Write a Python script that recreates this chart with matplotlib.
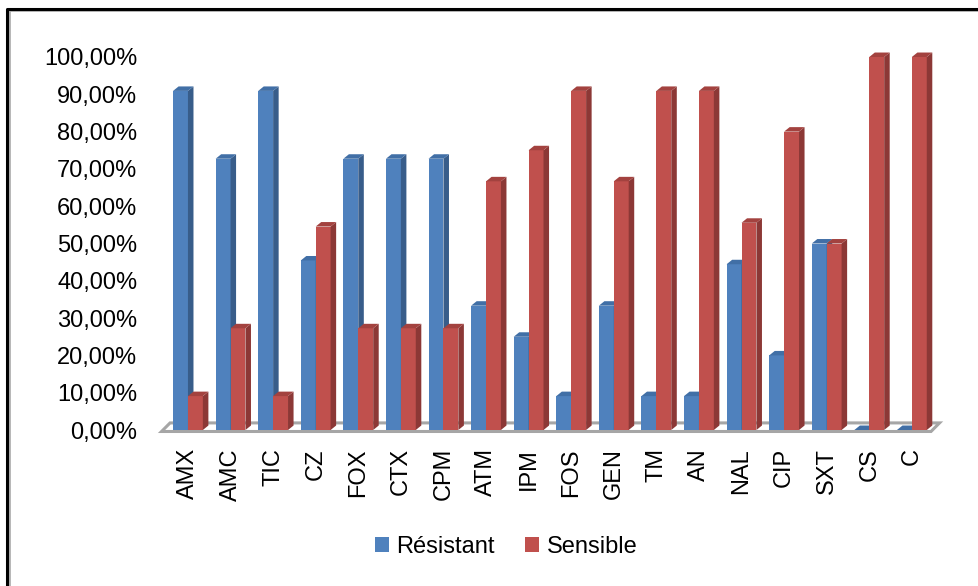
import matplotlib
matplotlib.use("Agg")
import matplotlib.pyplot as plt
from matplotlib.patches import Polygon
from matplotlib.lines import Line2D
import numpy as np

categories = ["AMX", "AMC", "TIC", "CZ", "FOX", "CTX", "CPM", "ATM", "IPM",
              "FOS", "GEN", "TM", "AN", "NAL", "CIP", "SXT", "CS", "C"]
resistant = [90.91, 72.73, 90.91, 45.45, 72.73, 72.73, 72.73, 33.33, 25.0,
             9.09, 33.33, 9.09, 9.09, 44.44, 20.0, 50.0, 0.0, 0.0]
sensible = [9.09, 27.27, 9.09, 54.55, 27.27, 27.27, 27.27, 66.67, 75.0,
            90.91, 66.67, 90.91, 90.91, 55.56, 80.0, 50.0, 100.0, 100.0]
series_names = ["Résistant", "Sensible"]
yticks = list(range(0, 101, 10))

# front / side / top shades for the pseudo-3D columns
shades = [("#4F81BD", "#385D8A", "#416FA6"),
          ("#C0504D", "#8C3836", "#A3423F")]

plt.rcParams["font.family"] = ["Liberation Sans", "DejaVu Sans"]

fig = plt.figure(figsize=(9.79, 5.86), dpi=100)
ax = fig.add_axes([162.4 / 979, 156 / 586, 775 / 979, 373 / 586])
ax.set_xlim(-0.6, 17.6)
ax.set_ylim(0, 100)

x = np.arange(len(categories))
w = 0.35
dx, dy = 0.13, 1.2  # depth offset in data units

# floor slab
floor = Polygon([(-0.62, -0.4), (17.45, -0.4), (17.45 + 0.2, 1.9), (-0.62 + 0.2, 1.9)],
                closed=True, facecolor="white", edgecolor="#A6A6A6", lw=2.2,
                zorder=1, clip_on=False)
ax.add_patch(floor)

for k, vals in enumerate([resistant, sensible]):
    front, side, top = shades[k]
    bars = ax.bar(x - w + k * w, vals, width=w, align="edge", color=front,
                  label=series_names[k], zorder=3 + k, clip_on=False)
    for r in bars:
        x0, x1, h = r.get_x(), r.get_x() + r.get_width(), r.get_height()
        ax.add_patch(Polygon([(x1, 0), (x1 + dx, dy), (x1 + dx, h + dy), (x1, h)],
                             closed=True, facecolor=side, edgecolor="none",
                             zorder=3 + k, clip_on=False))
        ax.add_patch(Polygon([(x0, h), (x1, h), (x1 + dx, h + dy), (x0 + dx, h + dy)],
                             closed=True, facecolor=top, edgecolor="none",
                             zorder=3 + k, clip_on=False))

ax.set_yticks(yticks)
ax.set_yticklabels([("%.2f%%" % v).replace(".", ",") for v in yticks], fontsize=17)
ax.set_xticks(x)
ax.set_xticklabels(categories, rotation=90, fontsize=17)
ax.tick_params(axis="y", length=0, pad=18)
ax.tick_params(axis="x", length=0, pad=13)
for s in ax.spines.values():
    s.set_visible(False)

fig.legend(loc="center", bbox_to_anchor=(506 / 979, 1 - 547 / 586), ncol=2,
           frameon=False, fontsize=17, handlelength=0.6, handleheight=0.6,
           handletextpad=0.3, columnspacing=1.3)

# outer chart frame, cut off on the right and bottom
fig.add_artist(Line2D([9 / 979, 9 / 979, 1.0], [0, 1 - 10 / 586, 1 - 10 / 586],
                      transform=fig.transFigure, color="#B0B0B0", lw=2.0))
fig.add_artist(Line2D([7.5 / 979, 7.5 / 979, 1.0], [0, 1 - 8.5 / 586, 1 - 8.5 / 586],
                      transform=fig.transFigure, color="black", lw=2.2))

fig.savefig("out.png", dpi=100)
